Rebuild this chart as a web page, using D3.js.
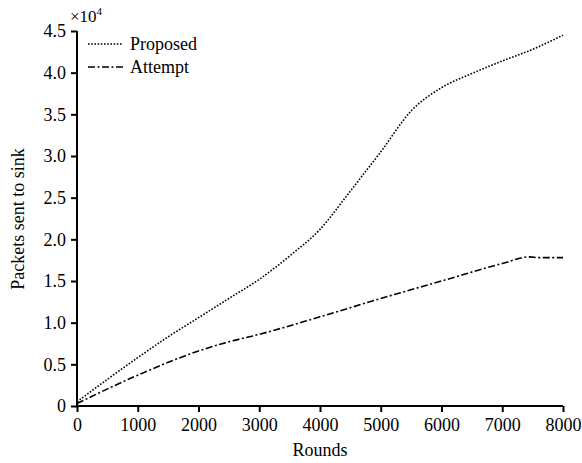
<!DOCTYPE html>
<html>
<head>
<meta charset="utf-8">
<script src="https://cdn.jsdelivr.net/npm/d3@7"></script>
<style>
  body { margin: 0; background: #fff; }
  svg text { font-family: "Liberation Serif", "Times New Roman", serif; fill: #000; }
</style>
</head>
<body>
<svg id="chart" width="582" height="463"></svg>
<script>
// rounds on x, packets (x10^4) on y
const proposedRounds = [0, 500, 1000, 1500, 2000, 2500, 3000, 3500, 4000, 4500, 5000, 5500, 6000, 6500, 7000, 7500, 8000];
const proposedValues = [0.05, 0.32, 0.58, 0.83, 1.06, 1.29, 1.52, 1.80, 2.12, 2.58, 3.05, 3.54, 3.82, 3.99, 4.14, 4.28, 4.45];

const attemptRounds = [0, 1000, 2000, 2500, 3000, 4000, 5000, 6000, 7000, 7450, 7600, 8000];
const attemptValues = [0.03, 0.37, 0.66, 0.77, 0.86, 1.07, 1.29, 1.50, 1.71, 1.79, 1.78, 1.78];

const xTicks = [0, 1000, 2000, 3000, 4000, 5000, 6000, 7000, 8000];
const yTicks = [0, 0.5, 1.0, 1.5, 2.0, 2.5, 3.0, 3.5, 4.0, 4.5];

const FONT = '"Liberation Serif", "Times New Roman", serif';

const svg = d3.select('#chart');
const mLeft = 77, mRight = 563, mTop = 31, mBottom = 406;

const x = d3.scaleLinear().domain([0, 8000]).range([mLeft, mRight]);
const y = d3.scaleLinear().domain([0, 4.5]).range([mBottom, mTop]);

// axes
const xAxis = svg.append('g')
    .attr('transform', `translate(0,${mBottom})`)
    .call(d3.axisBottom(x).tickValues(xTicks).tickSize(6).tickPadding(6).tickFormat(d3.format('d')));
const yAxis = svg.append('g')
    .attr('transform', `translate(${mLeft},0)`)
    .call(d3.axisLeft(y).tickValues(yTicks).tickSize(6).tickPadding(5)
        .tickFormat(d => d === 0 ? '0' : d3.format('.1f')(d)));

[xAxis, yAxis].forEach(g => {
    g.attr('font-family', FONT).attr('font-size', 18);
    g.select('.domain').attr('stroke', '#000').attr('stroke-width', 2);
    g.selectAll('.tick line').attr('stroke', '#000').attr('stroke-width', 2);
    g.selectAll('.tick text').attr('fill', '#000');
});
// no outer tick stubs on the domain path
xAxis.select('.domain').attr('d', `M${mLeft},0H${mRight}`);
yAxis.select('.domain').attr('d', `M0,${mBottom}V${mTop}`);

// lines
const line = d3.line().x(d => x(d[0])).y(d => y(d[1])).curve(d3.curveMonotoneX);

svg.append('path')
    .datum(d3.zip(proposedRounds, proposedValues))
    .attr('d', line)
    .attr('fill', 'none')
    .attr('stroke', '#000')
    .attr('stroke-width', 1.6)
    .attr('stroke-dasharray', '1.6,1.6');

svg.append('path')
    .datum(d3.zip(attemptRounds, attemptValues))
    .attr('d', line)
    .attr('fill', 'none')
    .attr('stroke', '#000')
    .attr('stroke-width', 1.6)
    .attr('stroke-dasharray', '7,2.5,2,2.5');

// legend
const legend = [
    { name: 'Proposed', dash: '1.6,1.6', yy: 44 },
    { name: 'Attempt', dash: '7,2.5,2,2.5', yy: 67 }
];
legend.forEach(l => {
    svg.append('line')
        .attr('x1', 88).attr('x2', 123).attr('y1', l.yy).attr('y2', l.yy)
        .attr('stroke', '#000').attr('stroke-width', 1.6)
        .attr('stroke-dasharray', l.dash);
    svg.append('text')
        .attr('x', 130).attr('y', l.yy + 6)
        .style('font-size', '18px')
        .text(l.name);
});

// exponent label
const ex = svg.append('text').attr('x', 70).attr('y', 22).style('font-size', '17px');
ex.append('tspan').text('×10');
ex.append('tspan').attr('dy', -7).style('font-size', '11px').text('4');

// axis titles
svg.append('text')
    .attr('x', 320).attr('y', 456)
    .attr('text-anchor', 'middle')
    .style('font-size', '18px')
    .text('Rounds');

svg.append('text')
    .attr('transform', 'translate(24,219) rotate(-90)')
    .attr('text-anchor', 'middle')
    .style('font-size', '18px')
    .text('Packets sent to sink');
</script>
</body>
</html>
